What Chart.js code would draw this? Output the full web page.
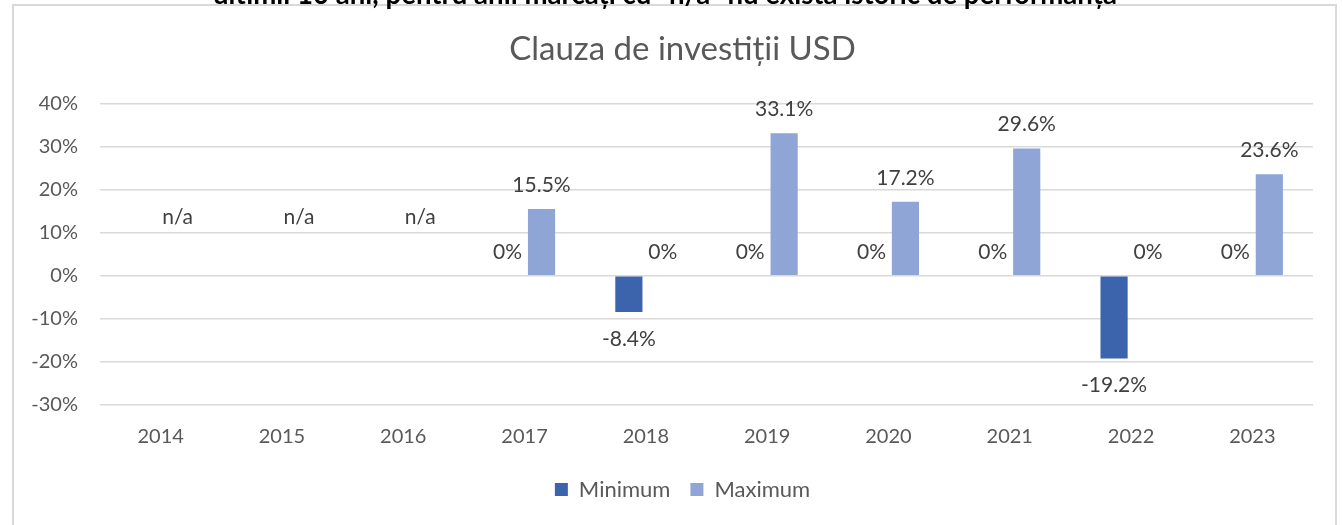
<!DOCTYPE html>
<html>
<head>
<meta charset="utf-8">
<script src="https://cdn.jsdelivr.net/npm/chart.js@4/dist/chart.umd.min.js"></script>
<style>
  html, body { margin: 0; padding: 0; background: #ffffff; overflow: hidden; }
  #wrap { position: relative; width: 1343px; height: 525px; overflow: hidden; }
  #topnote {
    position: absolute; left: 0; width: 1330px; top: -20px; text-align: center;
    font-family: Lato, "Liberation Sans", sans-serif; font-weight: bold; font-size: 27.6px;
    line-height: 27px; color: #000; white-space: nowrap; z-index: 3;
  }
  #frame {
    position: absolute; left: 12px; top: 4px; width: 1321px; height: 540px;
    border: 2px solid #d9d9d9; box-sizing: content-box; z-index: 2; pointer-events: none;
  }
  canvas { position: absolute; left: 0; top: 0; z-index: 1; }
</style>
</head>
<body>
<div id="wrap">
  <div id="topnote">ultimii 10 ani, pentru anii marcați cu "n/a" nu există istoric de performanță</div>
  <div id="frame"></div>
  <canvas id="c" width="1343" height="525"></canvas>
</div>
<script>
const chartTitle = 'Clauza de investiții USD';
const categories = ['2014', '2015', '2016', '2017', '2018', '2019', '2020', '2021', '2022', '2023'];
const minimumValues = [null, null, null, 0, -8.4, 0, 0, 0, -19.2, 0];
const maximumValues = [null, null, null, 15.5, 0, 33.1, 17.2, 29.6, 0, 23.6];
const seriesNames = ['Minimum', 'Maximum'];
const yTickMin = -30;
const yTickMax = 40;
const yTickStep = 10;
const naText = 'n/a';
const naLevel = 13.5;

const FONT = 'Lato, "Liberation Sans", sans-serif';

const valueLabels = {
  id: 'valueLabels',
  afterDatasetsDraw(chart) {
    const ctx = chart.ctx;
    const xs = chart.scales.x, ys = chart.scales.y;
    ctx.save();
    ctx.font = '21px ' + FONT;
    ctx.fillStyle = '#404040';
    ctx.textAlign = 'center';
    ctx.textBaseline = 'middle';
    chart.data.datasets.forEach((ds, di) => {
      const meta = chart.getDatasetMeta(di);
      let offset = 0;
      meta.data.forEach((bar, i) => {
        if (ds.data[i] !== null && isFinite(bar.x)) offset = bar.x - xs.getPixelForValue(i);
      });
      meta.data.forEach((bar, i) => {
        const v = ds.data[i];
        const x = xs.getPixelForValue(i) + offset;
        if (v === null) {
          if (di === 1) ctx.fillText(naText, x, ys.getPixelForValue(naLevel));
          return;
        }
        const txt = v === 0 ? '0%' : v.toFixed(1) + '%';
        const y = v < 0 ? bar.y + 27 : bar.y - 24;
        ctx.fillText(txt, x, y);
      });
    });
    ctx.restore();
  }
};

// let the y-axis tick labels use the space left of the axis box (no clipping)
const widenYAxis = {
  id: 'widenYAxis',
  afterLayout(chart) { chart.scales.y.left = 0; }
};

new Chart(document.getElementById('c'), {
  type: 'bar',
  data: {
    labels: categories,
    datasets: [
      { label: seriesNames[0], data: minimumValues, backgroundColor: '#3B64AD', borderWidth: 0 },
      { label: seriesNames[1], data: maximumValues, backgroundColor: '#8FA5D6', borderWidth: 0 }
    ]
  },
  options: {
    responsive: false,
    devicePixelRatio: 1,
    animation: false,
    categoryPercentage: 0.56,
    barPercentage: 0.8,
    layout: { padding: { left: 52, right: 30, top: 0, bottom: 14.5 } },
    plugins: {
      tooltip: { enabled: false },
      title: {
        display: true,
        text: chartTitle,
        color: '#595959',
        font: { family: FONT, size: 33, weight: 'normal' },
        padding: { top: 29.5, bottom: 34.5 }
      },
      legend: {
        position: 'bottom',
        labels: {
          color: '#595959',
          font: { family: FONT, size: 22 },
          boxWidth: 13,
          boxHeight: 13,
          padding: 20
        }
      }
    },
    scales: {
      x: {
        grid: { display: false },
        border: { display: false },
        ticks: { color: '#595959', font: { family: FONT, size: 20 }, padding: 12, maxRotation: 0 },
        afterFit(scale) { scale.height = 53.5; }
      },
      y: {
        min: yTickMin,
        max: yTickMax,
        grid: { color: '#d9d9d9', lineWidth: 1.5, drawTicks: false },
        border: { display: false },
        ticks: {
          stepSize: yTickStep,
          color: '#595959',
          font: { family: FONT, size: 20 },
          padding: 22,
          callback: v => v + '%'
        },
        afterFit(scale) { scale.width = 48; }
      }
    }
  },
  plugins: [valueLabels, widenYAxis]
});
</script>
</body>
</html>
